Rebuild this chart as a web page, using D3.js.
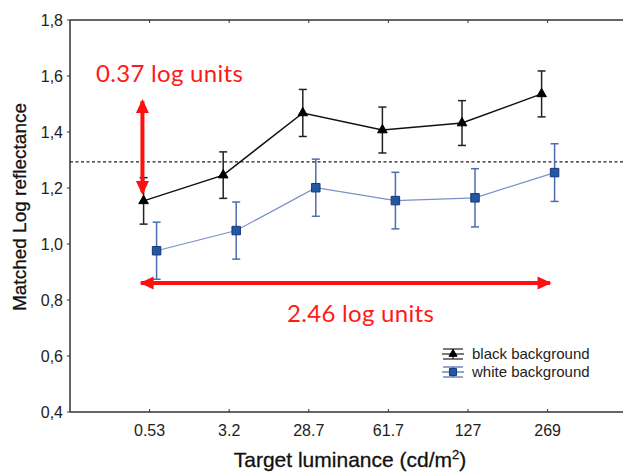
<!DOCTYPE html>
<html>
    <head>
        <meta charset="utf-8">
        <title>Matched Log reflectance</title>
        <style>
body {
    margin: 0;
    background-color: white;
    font-family: 'Liberation Sans', Arial, sans-serif;
}

svg {
    display: block;
    background-color: white;
}

.tick-label {
    font-size: 16px;
    fill: #222;
}

.axis-title {
    fill: #111;
    stroke: #111;
    stroke-width: 0.3px;
}

.note {
    font-family: Lato, sans-serif;
    font-size: 24px;
    letter-spacing: 0.3px;
    fill: #ff1a1a;
}

.legend-text {
    font-size: 15px;
    fill: #222;
}
        </style>
        <script src="https://cdn.jsdelivr.net/npm/d3@7/dist/d3.min.js"></script>
    </head>
    <body>
        <script>
// values
var categories = ["0.53", "3.2", "28.7", "61.7", "127", "269"];
var blackMean = [1.154, 1.246, 1.468, 1.407, 1.432, 1.536];
var blackErr = [0.083, 0.083, 0.084, 0.082, 0.080, 0.082];
var whiteMean = [0.976, 1.048, 1.201, 1.155, 1.165, 1.255];
var whiteErr = [0.102, 0.102, 0.102, 0.101, 0.104, 0.103];
var yTicks = [0.4, 0.6, 0.8, 1.0, 1.2, 1.4, 1.6, 1.8];
var referenceLevel = 1.293;
var seriesNames = ["black background", "white background"];

var width = 623,
    height = 474;

var plotLeft = 70,
    plotTop = 20,
    plotBottom = 412;

var svg = d3.select('body')
    .append('svg')
    .attr('width', width)
    .attr('height', height);

// categories sit at index positions, plot runs past the right edge of the picture
var x = d3.scaleLinear().domain([-1, 7]).range([plotLeft, plotLeft + 8 * 79.6]);
var y = d3.scaleLinear().domain([0.4, 1.8]).range([plotBottom, plotTop]);

// frame
svg.append("line")
    .attr("x1", plotLeft).attr("x2", width)
    .attr("y1", plotTop).attr("y2", plotTop)
    .attr("stroke", "#333").attr("stroke-width", 1.5);
svg.append("line")
    .attr("x1", plotLeft).attr("x2", width)
    .attr("y1", plotBottom).attr("y2", plotBottom)
    .attr("stroke", "#333").attr("stroke-width", 1.5);
svg.append("line")
    .attr("x1", plotLeft).attr("x2", plotLeft)
    .attr("y1", plotTop).attr("y2", plotBottom)
    .attr("stroke", "#333").attr("stroke-width", 1.5);

// y ticks
yTicks.forEach(function (v) {
    svg.append("line")
        .attr("x1", plotLeft - 3).attr("x2", plotLeft)
        .attr("y1", y(v)).attr("y2", y(v))
        .attr("stroke", "#333");
    svg.append("text")
        .attr("class", "tick-label")
        .attr("x", plotLeft - 7)
        .attr("y", y(v) + 5.5)
        .attr("text-anchor", "end")
        .text(d3.format(".1f")(v).replace(".", ","));
});

// x ticks, top and bottom, pointing inwards
categories.forEach(function (c, i) {
    svg.append("line")
        .attr("x1", x(i)).attr("x2", x(i))
        .attr("y1", plotBottom).attr("y2", plotBottom - 3)
        .attr("stroke", "#333");
    svg.append("line")
        .attr("x1", x(i)).attr("x2", x(i))
        .attr("y1", plotTop).attr("y2", plotTop + 3)
        .attr("stroke", "#333");
    svg.append("text")
        .attr("class", "tick-label")
        .attr("x", x(i))
        .attr("y", plotBottom + 24)
        .attr("text-anchor", "middle")
        .text(c);
});

// axis titles
var xt = svg.append("text")
    .attr("class", "axis-title")
    .attr("x", 350)
    .attr("y", 467)
    .attr("font-size", 21)
    .attr("text-anchor", "middle")
    .text("Target luminance (cd/m");
xt.append("tspan").attr("dy", -8).attr("font-size", 13).text("2");
xt.append("tspan").attr("dy", 8).text(")");

svg.append("text")
    .attr("class", "axis-title")
    .attr("font-size", 19)
    .attr("transform", "translate(26, 207) rotate(-90)")
    .attr("text-anchor", "middle")
    .text("Matched Log reflectance");

// dotted reference level
svg.append("line")
    .attr("x1", plotLeft).attr("x2", width)
    .attr("y1", y(referenceLevel)).attr("y2", y(referenceLevel))
    .attr("stroke", "#222")
    .attr("stroke-width", 1.3)
    .attr("stroke-dasharray", "3,2.5");

var series = [
    { mean: blackMean, err: blackErr, dx: -6, line: "#111", bar: "#222", width: 1.5,
      symbol: d3.symbolTriangle, size: 40, fill: "#000", stroke: "#000" },
    { mean: whiteMean, err: whiteErr, dx: 7, line: "#7b90c6", bar: "#4f6cae", width: 1.2,
      symbol: d3.symbolSquare, size: 72, fill: "#2356a3", stroke: "#17397a" }
];

series.forEach(function (s) {
    var pts = s.mean.map(function (m, i) { return [x(i) + s.dx, y(m)]; });

    svg.append("path")
        .attr("d", d3.line()(pts))
        .attr("fill", "none")
        .attr("stroke", s.line)
        .attr("stroke-width", s.width);

    var g = svg.append("g");
    s.mean.forEach(function (m, i) {
        var cx = x(i) + s.dx;
        var y1 = y(m + s.err[i]), y2 = y(m - s.err[i]);
        g.append("line")
            .attr("x1", cx).attr("x2", cx).attr("y1", y1).attr("y2", y2)
            .attr("stroke", s.bar).attr("stroke-width", 1.5);
        [y1, y2].forEach(function (yy) {
            g.append("line")
                .attr("x1", cx - 4).attr("x2", cx + 4).attr("y1", yy).attr("y2", yy)
                .attr("stroke", s.bar).attr("stroke-width", 1.5);
        });
        g.append("path")
            .attr("d", d3.symbol().type(s.symbol).size(s.size)())
            .attr("transform", "translate(" + cx + "," + y(m) + ")")
            .attr("fill", s.fill)
            .attr("stroke", s.stroke)
            .attr("stroke-width", 1);
    });
});

// red annotations
function arrowHead(px, py, angle) {
    // triangle pointing along angle (degrees)
    svg.append("path")
        .attr("d", "M 0 0 L -14 -6.5 L -14 6.5 Z")
        .attr("transform", "translate(" + px + "," + py + ") rotate(" + angle + ")")
        .attr("fill", "#ff1010");
}

var vx = x(-0.09);
svg.append("line")
    .attr("x1", vx).attr("x2", vx)
    .attr("y1", y(1.51)).attr("y2", y(1.185))
    .attr("stroke", "#ff1010").attr("stroke-width", 4);
arrowHead(vx, y(1.518), -90);
arrowHead(vx, y(1.175), 90);

var hy = y(0.861);
svg.append("line")
    .attr("x1", x(-0.11)).attr("x2", x(5.03))
    .attr("y1", hy).attr("y2", hy)
    .attr("stroke", "#ff1010").attr("stroke-width", 4);
arrowHead(x(-0.125), hy, 180);
arrowHead(x(5.05), hy, 0);

svg.append("text")
    .attr("class", "note")
    .attr("x", 96)
    .attr("y", 82)
    .text("0.37 log units");

svg.append("text")
    .attr("class", "note")
    .attr("x", 287)
    .attr("y", 322)
    .text("2.46 log units");

// legend
series.forEach(function (s, i) {
    var ly = 354 + i * 18, lx = 453;
    var lg = svg.append("g");
    lg.append("line")
        .attr("x1", lx - 11).attr("x2", lx + 11).attr("y1", ly).attr("y2", ly)
        .attr("stroke", s.bar).attr("stroke-width", 1.2);
    [ly - 5, ly + 5].forEach(function (yy) {
        lg.append("line")
            .attr("x1", lx - 10).attr("x2", lx + 10).attr("y1", yy).attr("y2", yy)
            .attr("stroke", s.bar).attr("stroke-width", 1.2);
    });
    lg.append("line")
        .attr("x1", lx).attr("x2", lx).attr("y1", ly - 5).attr("y2", ly + 5)
        .attr("stroke", s.bar).attr("stroke-width", 1.2);
    lg.append("path")
        .attr("d", d3.symbol().type(s.symbol).size(s.size * 0.7)())
        .attr("transform", "translate(" + lx + "," + ly + ")")
        .attr("fill", s.fill)
        .attr("stroke", s.stroke);
    lg.append("text")
        .attr("class", "legend-text")
        .attr("x", 472)
        .attr("y", ly + 5)
        .text(seriesNames[i]);
});
        </script>
    </body>
</html>
